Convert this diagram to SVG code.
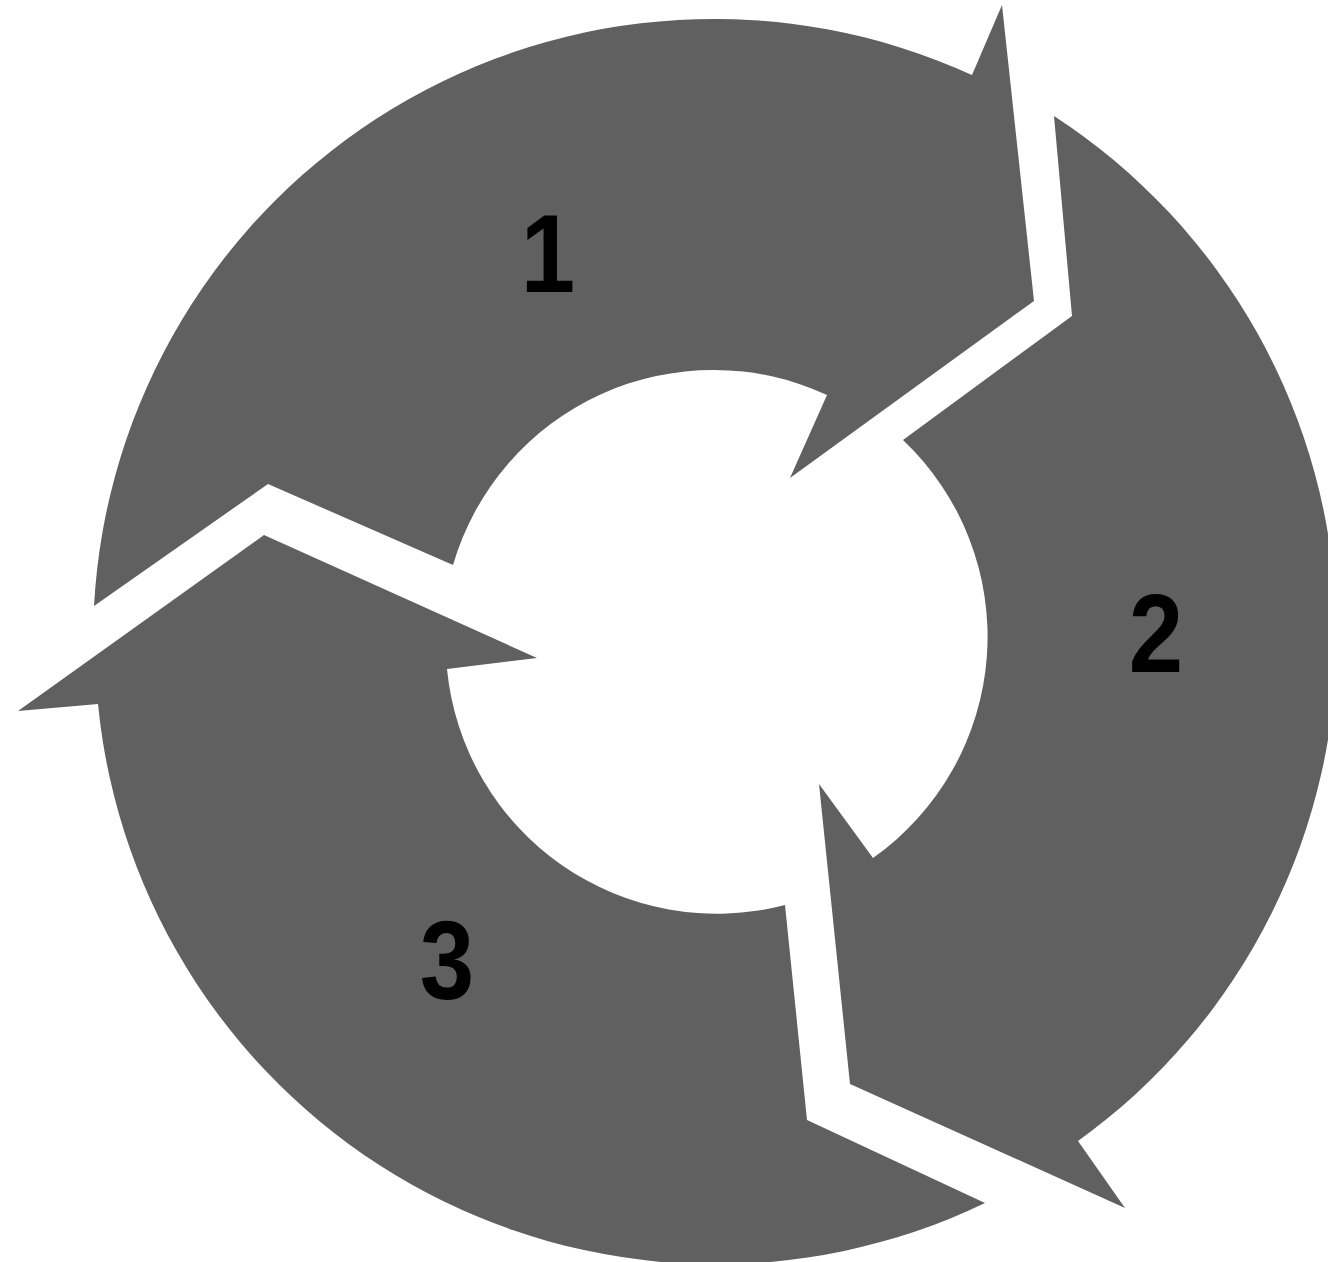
<svg xmlns="http://www.w3.org/2000/svg" width="1328" height="1262" viewBox="0 0 1328 1262">
  <style>
    .arrow { fill: #606060; stroke: none; }
    .num { font-family: "Liberation Sans", Arial, sans-serif; font-weight: bold; font-size: 111px; fill: #000; text-anchor: middle; }
  </style>
  <rect x="0" y="0" width="1328" height="1262" fill="#ffffff"/>
  <g id="arrow-1">
    <path class="arrow" d="M 94 606 A 621 621 0 0 1 972 75 L 1002 5 L 1034 301 L 790 478 L 827 395 A 271 271 0 0 0 453 565 L 268 484 Z"/>
    <text class="num" transform="translate(548,292) scale(0.88,1)">1</text>
  </g>
  <g id="arrow-2">
    <path class="arrow" d="M 1054 116 A 621 621 0 0 1 1078 1141 L 1125 1208 L 850 1084 L 819 784 L 873 858 A 271 271 0 0 0 903 440 L 1072 316 Z"/>
    <text class="num" transform="translate(1156,672) scale(0.88,1)">2</text>
  </g>
  <g id="arrow-3">
    <path class="arrow" d="M 985 1203 A 621 621 0 0 1 98 704 L 18 711 L 264 535 L 537 658 L 447 669 A 271 271 0 0 0 785 905 L 807 1120 Z"/>
    <text class="num" transform="translate(447,999) scale(0.88,1)">3</text>
  </g>
  <g id="connectors"></g>
</svg>
